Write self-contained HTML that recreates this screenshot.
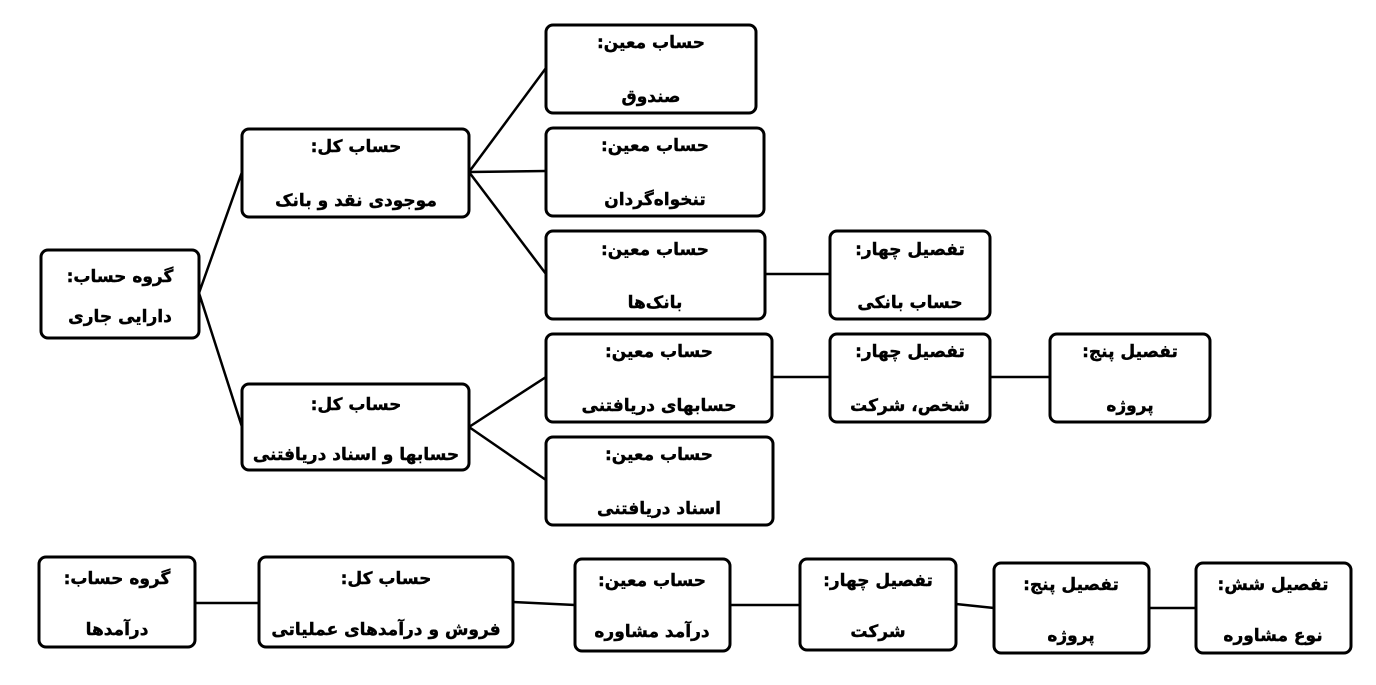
<!DOCTYPE html>
<html><head><meta charset="utf-8"><style>
html,body{margin:0;padding:0;background:#fff;}
svg text{font-family:"DejaVu Sans",sans-serif;font-weight:bold;font-size:17px;fill:#000;stroke:#000;stroke-width:0.4;direction:rtl;}
</style></head><body>
<svg width="1376" height="680" viewBox="0 0 1376 680" xmlns="http://www.w3.org/2000/svg">
<g stroke="#000" stroke-width="2.5" fill="none">
<line x1="199" y1="293" x2="242" y2="172"/>
<line x1="199" y1="293" x2="242" y2="427"/>
<line x1="469" y1="172" x2="546" y2="68"/>
<line x1="469" y1="172" x2="546" y2="171"/>
<line x1="469" y1="172" x2="546" y2="274"/>
<line x1="469" y1="427" x2="546" y2="377"/>
<line x1="469" y1="427" x2="546" y2="480"/>
<line x1="765" y1="274" x2="830" y2="274"/>
<line x1="772" y1="377" x2="830" y2="377"/>
<line x1="990" y1="377" x2="1050" y2="377"/>
<line x1="195" y1="603" x2="259" y2="603"/>
<line x1="513" y1="602" x2="575" y2="605"/>
<line x1="730" y1="605" x2="800" y2="605"/>
<line x1="956" y1="604" x2="994" y2="608"/>
<line x1="1149" y1="608" x2="1196" y2="608"/>
</g>
<g stroke="#000" stroke-width="3" fill="#fff">
<rect x="41" y="250" width="158" height="88" rx="7"/>
<rect x="242" y="129" width="227" height="88" rx="7"/>
<rect x="242" y="384" width="227" height="86" rx="7"/>
<rect x="546" y="25" width="210" height="88" rx="7"/>
<rect x="546" y="128" width="218" height="88" rx="7"/>
<rect x="546" y="231" width="219" height="88" rx="7"/>
<rect x="546" y="334" width="226" height="88" rx="7"/>
<rect x="546" y="437" width="227" height="88" rx="7"/>
<rect x="830" y="231" width="160" height="88" rx="7"/>
<rect x="830" y="334" width="160" height="88" rx="7"/>
<rect x="1050" y="334" width="160" height="88" rx="7"/>
<rect x="39" y="557" width="156" height="90" rx="7"/>
<rect x="259" y="557" width="254" height="90" rx="7"/>
<rect x="575" y="559" width="155" height="92" rx="7"/>
<rect x="800" y="559" width="156" height="91" rx="7"/>
<rect x="994" y="563" width="155" height="90" rx="7"/>
<rect x="1196" y="563" width="155" height="90" rx="7"/>
</g>
<g text-anchor="middle">
<text x="120" y="282">گروه حساب:</text><text x="120" y="322">دارایی جاری</text>
<text x="356" y="152">حساب کل:</text><text x="356" y="206">موجودی نقد و بانک</text>
<text x="356" y="410">حساب کل:</text><text x="356" y="460">حسابها و اسناد دریافتنی</text>
<text x="651" y="48">حساب معین:</text><text x="651" y="102">صندوق</text>
<text x="655" y="151">حساب معین:</text><text x="655" y="205">تنخواه‌گردان</text>
<text x="655" y="255">حساب معین:</text><text x="655" y="308">بانک‌ها</text>
<text x="659" y="357">حساب معین:</text><text x="659" y="411">حسابهای دریافتنی</text>
<text x="659" y="460">حساب معین:</text><text x="659" y="514">اسناد دریافتنی</text>
<text x="910" y="255">تفصیل چهار:</text><text x="910" y="308">حساب بانکی</text>
<text x="910" y="357">تفصیل چهار:</text><text x="910" y="411">شخص، شرکت</text>
<text x="1130" y="357">تفصیل پنج:</text><text x="1130" y="411">پروژه</text>
<text x="117" y="584">گروه حساب:</text><text x="117" y="635">درآمدها</text>
<text x="386" y="584">حساب کل:</text><text x="386" y="635">فروش و درآمدهای عملیاتی</text>
<text x="652" y="586">حساب معین:</text><text x="652" y="637">درآمد مشاوره</text>
<text x="878" y="586">تفصیل چهار:</text><text x="878" y="637">شرکت</text>
<text x="1071" y="590">تفصیل پنج:</text><text x="1071" y="641">پروژه</text>
<text x="1273" y="590">تفصیل شش:</text><text x="1273" y="641">نوع مشاوره</text>
</g>
</svg>
</body></html>
